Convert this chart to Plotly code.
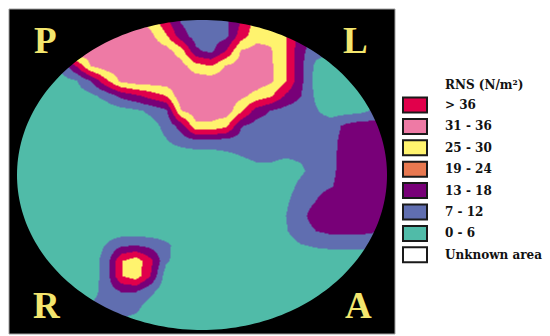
import numpy as np
import plotly.graph_objects as go

# Node positions of the sampling grid over the plate (plot units)
grid_x = [15, 30, 45, 60, 75, 90, 105, 120, 135, 150, 165, 180, 195,
          210, 225, 240, 255, 270, 285, 300, 315, 330, 345, 360, 375, 390]
grid_y = [20, 35, 50, 65, 80, 95, 110, 125, 140, 155, 170, 185, 200,
          215, 230, 245, 260, 275, 290, 305, 320, 335]

# RNS (N/m²) sampled at each node, one row per grid_y value
rns = [
    [34, 34, 34, 34, 34, 34, 34, 34, 34, 28, 20, 12, 9, 9, 11, 18.5, 27, 28, 24, 16, 8, 8, 8, 8, 8, 8],
    [34, 34, 34, 34, 34, 34, 34, 34, 34, 32, 25.5, 15, 10, 10, 11, 21.5, 28, 29, 24.5, 16, 10, 8, 8, 8, 8, 8],
    [30, 30, 30, 30, 36, 34, 34, 34, 34, 34, 33, 27.5, 13.5, 11, 18.5, 31, 33, 31, 24.5, 14, 9, 7, 6, 6, 6, 6],
    [3, 3, 3, 8, 18.5, 31, 34, 34, 34, 34, 34, 33, 27, 24.5, 31, 33, 34, 31.5, 24.5, 14, 5, 3, 3, 3, 3, 3],
    [3, 3, 3, 4, 6, 12.5, 23, 32, 34, 34, 34, 34, 34, 34, 34, 34, 34, 31.5, 24.5, 14, 4, 3, 3, 3, 3, 3],
    [3, 3, 3, 3, 3.5, 5, 8.4, 14, 17.2, 21, 24.5, 35, 34, 34, 34, 32, 28.5, 25.2, 17.5, 12.5, 5.5, 3, 3, 3, 4, 4],
    [3, 3, 3, 3, 3, 3, 3, 4, 5.3, 7.8, 11, 30, 34, 34, 34, 25.7, 15.8, 12, 10, 9, 7, 4, 4, 5, 8, 10],
    [3, 3, 3, 3, 3, 3, 3, 3, 3, 4, 8.3, 15, 29, 29, 26, 13, 10, 9.5, 9.5, 9.5, 9.5, 9.5, 14, 16, 15, 14],
    [3, 3, 3, 3, 3, 3, 3, 3, 3, 4, 6, 9, 11, 11, 10, 10, 9.5, 9, 9, 9, 9, 10.5, 15, 16.5, 16, 15],
    [3, 3, 3, 3, 3, 3, 3, 3, 3, 3, 3, 3, 3, 3, 5, 6.5, 8, 7.5, 7, 7.5, 9, 11, 15, 17, 17, 16],
    [3, 3, 3, 3, 3, 3, 3, 3, 3, 3, 3, 3, 3, 3, 3, 3, 4.3, 5.3, 3.5, 5.5, 9, 11, 15.5, 17, 17, 16],
    [3, 3, 3, 3, 3, 3, 3, 3, 3, 3, 3, 3, 3, 3, 3, 3, 3, 3, 4, 8, 10.5, 12, 15.5, 17, 17, 16],
    [3, 3, 3, 3, 3, 3, 3, 3, 3, 3, 3, 3, 3, 3, 3, 3, 3, 3.5, 5.5, 10, 12.5, 16, 17, 17, 17, 16],
    [3, 3, 3, 3, 3, 3, 3, 3, 3, 3, 3, 3, 3, 3, 3, 3, 3, 3.5, 6.5, 11, 15, 16.5, 17, 17, 16, 15],
    [3, 3, 3, 3, 3, 3, 3, 3, 3, 3, 3, 3, 3, 3, 3, 3, 3, 3.5, 6, 10, 12.5, 14, 14, 14, 13, 11],
    [3, 3, 3, 3, 3, 3, 7, 12, 13, 11, 8, 3.5, 3, 3, 3, 3, 3, 3, 4, 6, 7, 7.5, 7.5, 7.5, 8, 8],
    [3, 3, 3, 3, 3, 3.5, 9, 24, 28, 20, 7.5, 3.5, 3, 3, 3, 3, 3, 3, 3, 3, 3, 3, 3, 3, 3, 3],
    [3, 3, 3, 3, 3, 3.5, 9, 24, 28, 18, 3.5, 3, 3, 3, 3, 3, 3, 3, 3, 3, 3, 3, 3, 3, 3, 3],
    [3, 3, 3, 3, 3, 4, 9, 13, 13, 8, 3, 3, 3, 3, 3, 3, 3, 3, 3, 3, 3, 3, 3, 3, 3, 3],
    [3, 3, 3, 3, 3, 7, 9, 9, 8, 4, 3, 3, 3, 3, 3, 3, 3, 3, 3, 3, 3, 3, 3, 3, 3, 3],
    [3, 3, 3, 3, 3, 6, 7, 6, 5, 3, 3, 3, 3, 3, 3, 3, 3, 3, 3, 3, 3, 3, 3, 3, 3, 3],
    [3, 3, 3, 3, 3, 3, 3, 3, 3, 3, 3, 3, 3, 3, 3, 3, 3, 3, 3, 3, 3, 3, 3, 3, 3, 3],
]

# Class bins (upper bound of each band) and the colours drawn on the map
class_edges = [6.5, 12.5, 18.5, 24.5, 30.5, 36.5]
map_colors = ["#50BBA8", "#606EB0", "#780078", "#E1004B", "#FFF36E", "#EE7AA5", "#E1004B"]
z_max = 42

# Legend entries
legend_title = "RNS (N/m²)"
legend_labels = ["> 36", "31 - 36", "25 - 30", "19 - 24", "13 - 18", "7 - 12", "0 - 6", "Unknown area"]
legend_colors = ["#E1004B", "#EE7AA5", "#FFF36E", "#E87850", "#780078", "#606EB0", "#50BBA8", "#FFFFFF"]

# Orientation marks in the corners
corner_labels = ["P", "L", "R", "A"]


def step_colorscale(edges, colors, zmax):
    scale, lo = [], 0.0
    for i, c in enumerate(colors):
        hi = edges[i] / zmax if i < len(edges) else 1.0
        scale.append([lo, c])
        scale.append([hi, c])
        lo = hi
    return scale


W, H = 550, 336
frame = (9, 9, 395, 334)             # black panel
cx, cy, rx, ry = 202, 175, 185, 155  # plate outline

fig = go.Figure()
fig.add_trace(go.Heatmap(
    x=grid_x, y=grid_y, z=rns, zmin=0, zmax=z_max, zsmooth="best",
    colorscale=step_colorscale(class_edges, map_colors, z_max),
    showscale=False, hoverinfo="skip",
))


def rect_path(x0, y0, x1, y1):
    return f"M{x0},{y0} L{x1},{y0} L{x1},{y1} L{x0},{y1} Z"


t = np.linspace(0, 2 * np.pi, 240, endpoint=False)
ell = " ".join(
    ("M" if i == 0 else "L") + f"{cx + rx * np.cos(a):.2f},{cy + ry * np.sin(a):.2f}"
    for i, a in enumerate(t)
) + " Z"

shapes = [
    # white surround outside the panel
    dict(type="path", path=rect_path(0, 0, W, H) + " " + rect_path(*frame),
         fillcolor="white", fillrule="evenodd", line=dict(width=0), layer="above"),
    # black panel with the plate cut out
    dict(type="path", path=rect_path(*frame) + " " + ell,
         fillcolor="black", fillrule="evenodd", line=dict(width=0), layer="above"),
    dict(type="rect", x0=frame[0], y0=frame[1], x1=frame[2], y1=frame[3],
         line=dict(color="#A0A0A0", width=1), fillcolor="rgba(0,0,0,0)", layer="above"),
]

annotations = []
text_font = dict(family="DejaVu Serif", size=12, color="#111111", weight="bold")
leg_y0, leg_step = 105, 21.4
for i, (lab, col) in enumerate(zip(legend_labels, legend_colors)):
    yc = leg_y0 + i * leg_step
    shapes.append(dict(type="rect", x0=403, x1=427, y0=yc - 7.5, y1=yc + 7.5,
                       fillcolor=col, line=dict(color="#1A1A1A", width=2), layer="above"))
    annotations.append(dict(x=443, y=yc, text=lab, showarrow=False, xanchor="left",
                            yanchor="middle", font=text_font))
annotations.append(dict(x=443, y=85, text=legend_title, showarrow=False, xanchor="left",
                        yanchor="middle", font=text_font))

corner_pos = [(45, 40), (355, 40), (47, 305), (358, 305)]
for lab, (px, py) in zip(corner_labels, corner_pos):
    annotations.append(dict(x=px, y=py, text=lab, showarrow=False, xanchor="center",
                            yanchor="middle",
                            font=dict(family="Liberation Serif", size=37, color="#F3E66E",
                                      weight="bold")))

fig.update_layout(
    width=W, height=H, margin=dict(l=0, r=0, t=0, b=0),
    paper_bgcolor="white", plot_bgcolor="white",
    xaxis=dict(range=[0, W], visible=False, fixedrange=True),
    yaxis=dict(range=[H, 0], visible=False, fixedrange=True),
    shapes=shapes, annotations=annotations, showlegend=False,
)

fig.write_html("out.html")
